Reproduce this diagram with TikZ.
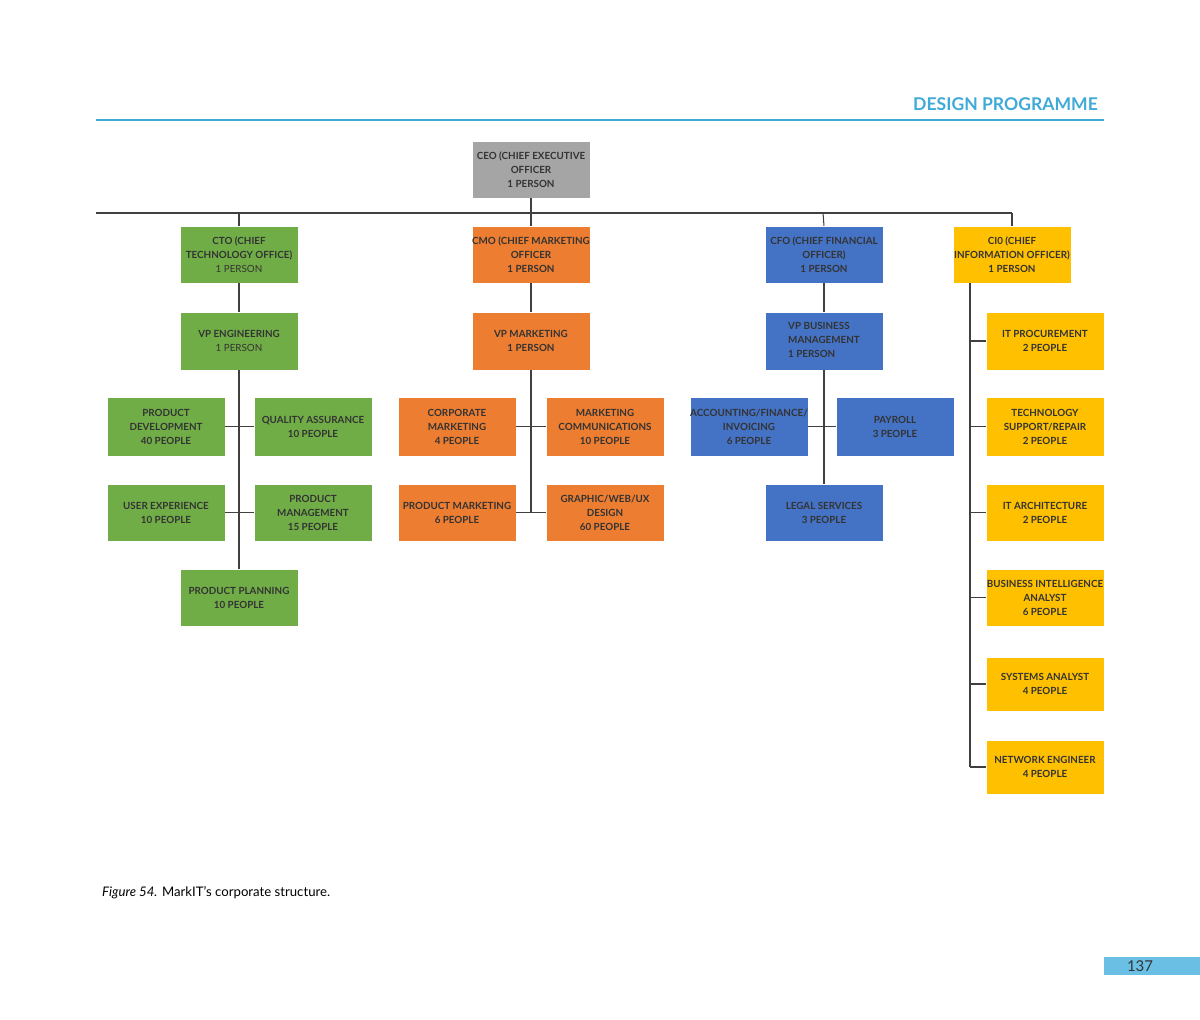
\documentclass[tikz,border=0pt]{standalone}
\usepackage{fontspec}
\setmainfont{Lato}
\begin{document}
\begin{tikzpicture}[x=0.02cm,y=-0.02cm,
 bx/.style={draw=white,line width=0.3pt,inner sep=0pt,align=center,text=black!80,font=\bfseries\fontsize{5.6}{8}\selectfont},
 ln/.style={draw=black!75,line width=0.6pt}]
\definecolor{gr}{HTML}{70AD47}\definecolor{or}{HTML}{ED7D31}\definecolor{bl}{HTML}{4472C4}
\definecolor{ye}{HTML}{FFC000}\definecolor{gy}{HTML}{A5A5A5}\definecolor{hb}{HTML}{3FA9D8}\definecolor{pb}{HTML}{6AC0E4}
\useasboundingbox (0,0) rectangle (1200,1020);
\newcommand\bxx[7]{\node[bx,fill=#6,minimum width={(#4-#2)*0.02cm},minimum height={(#5-#3)*0.02cm}] (#1) at ({(#2+#4)/2},{(#3+#5)/2}) {#7};}
% header
\node[anchor=east,text=hb,font=\bfseries\fontsize{10}{12}\selectfont] (hd) at (1104,104) {DESIGN PROGRAMME};
\coordinate (h1) at (96,120); \coordinate (h2) at (1104,120);
\draw[hb,line width=0.6pt] (h1) -- (h2);
% lines
\coordinate (L) at (96,213); \coordinate (R) at (1012,213);
\coordinate (t1) at (239,213); \coordinate (t2) at (531,213); \coordinate (t3) at (823,213);
\draw[ln] (L) -- (R);
\bxx{ceo}{472}{141}{590}{198}{gy}{CEO (CHIEF EXECUTIVE\\OFFICER\\1 PERSON}
\bxx{cto}{180}{226}{298}{283}{gr}{CTO (CHIEF\\TECHNOLOGY OFFICE)\\\mdseries 1 PERSON}
\bxx{cmo}{472}{226}{590}{283}{or}{CMO (CHIEF MARKETING\\OFFICER\\1 PERSON}
\bxx{cfo}{765}{226}{883}{283}{bl}{CFO (CHIEF FINANCIAL\\OFFICER)\\1 PERSON}
\bxx{cio}{953}{226}{1071}{283}{ye}{CI0 (CHIEF\\INFORMATION OFFICER)\\1 PERSON}
\bxx{vpe}{180}{312}{298}{370}{gr}{VP ENGINEERING\\\mdseries 1 PERSON}
\bxx{vpm}{472}{312}{590}{370}{or}{VP MARKETING\\1 PERSON}
\bxx{vpb}{765}{312}{883}{370}{bl}{\begin{tabular}{@{}l@{}}VP BUSINESS\\MANAGEMENT\\1 PERSON\end{tabular}}
\bxx{pd}{107}{397}{225}{456}{gr}{PRODUCT\\DEVELOPMENT\\40 PEOPLE}
\bxx{qa}{254}{397}{372}{456}{gr}{QUALITY ASSURANCE\\10 PEOPLE}
\bxx{ux}{107}{484}{225}{541}{gr}{USER EXPERIENCE\\10 PEOPLE}
\bxx{pm}{254}{484}{372}{541}{gr}{PRODUCT\\MANAGEMENT\\15 PEOPLE}
\bxx{pp}{180}{569}{298}{626}{gr}{PRODUCT PLANNING\\10 PEOPLE}
\bxx{cm}{398}{397}{516}{456}{or}{CORPORATE\\MARKETING\\4 PEOPLE}
\bxx{mc}{546}{397}{664}{456}{or}{MARKETING\\COMMUNICATIONS\\10 PEOPLE}
\bxx{pmk}{398}{484}{516}{541}{or}{PRODUCT MARKETING\\6 PEOPLE}
\bxx{gw}{546}{484}{664}{541}{or}{GRAPHIC/WEB/UX\\DESIGN\\60 PEOPLE}
\bxx{af}{690}{397}{808}{456}{bl}{ACCOUNTING/FINANCE/\\INVOICING\\6 PEOPLE}
\bxx{pay}{836}{397}{954}{456}{bl}{PAYROLL\\3 PEOPLE}
\bxx{lg}{765}{484}{883}{541}{bl}{LEGAL SERVICES\\3 PEOPLE}
\bxx{ip}{986}{312}{1104}{370}{ye}{IT PROCUREMENT\\2 PEOPLE}
\bxx{ts}{986}{397}{1104}{456}{ye}{TECHNOLOGY\\SUPPORT/REPAIR\\2 PEOPLE}
\bxx{ia}{986}{484}{1104}{541}{ye}{IT ARCHITECTURE\\2 PEOPLE}
\bxx{bi}{986}{569}{1104}{626}{ye}{BUSINESS INTELLIGENCE\\ANALYST\\6 PEOPLE}
\bxx{sa}{986}{657}{1104}{711}{ye}{SYSTEMS ANALYST\\4 PEOPLE}
\bxx{ne}{986}{740}{1104}{794}{ye}{NETWORK ENGINEER\\4 PEOPLE}
% connectors
\draw[ln] (ceo.south) -- (t2);
\draw[ln] (t1) -- (cto.north); \draw[ln] (t2) -- (cmo.north); \draw[ln] (t3) -- (cfo.north);
\draw[ln] (R) -- (cio.north);
\draw[ln] (cto) -- (vpe); \draw[ln] (cmo) -- (vpm); \draw[ln] (cfo) -- (vpb);
\draw[ln] (vpe.south) -- (pp.north); \draw[ln] (pd.east) -- (qa.west); \draw[ln] (ux.east) -- (pm.west);
\coordinate (om) at (531,512);
\draw[ln] (vpm.south) -- (om); \draw[ln] (cm.east) -- (mc.west); \draw[ln] (pmk.east) -- (gw.west);
\draw[ln] (vpb.south) -- (lg.north); \draw[ln] (af.east) -- (pay.west);
\coordinate (yt) at (970,283); \coordinate (yb) at (970,767);
\draw[ln] (yt) -- (yb);
\foreach \n in {ip,ts,ia,bi,sa,ne}{\draw[ln] (\n.west) -- (970,0 |- \n.west);}
% caption and page
\node[anchor=west,font=\fontsize{7.5}{9}\selectfont] (cap) at (96,893) {\textit{Figure 54.} MarkIT's corporate structure.};
\node[fill=pb,minimum width=96*0.02cm,minimum height=18*0.02cm,inner sep=0pt] (pg) at (1152,966) {};
\node[font=\fontsize{8.5}{10}\selectfont,text=black!80] (pgn) at (1140,966) {137};
\end{tikzpicture}
\end{document}
